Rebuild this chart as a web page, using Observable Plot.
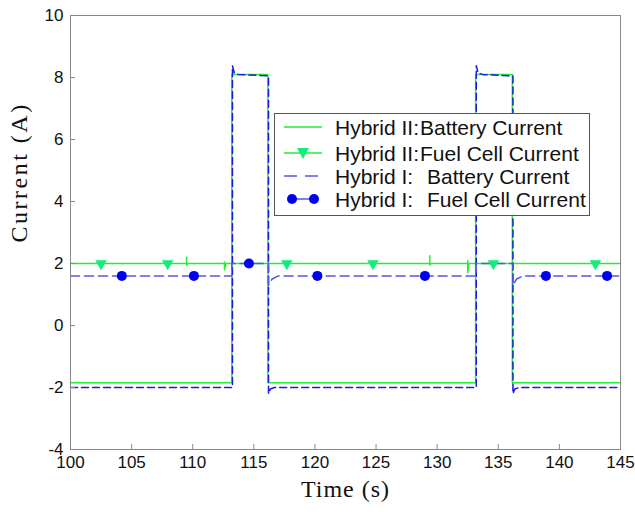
<!DOCTYPE html>
<html><head><meta charset="utf-8">
<script src="https://cdn.jsdelivr.net/npm/d3@7"></script>
<script src="https://cdn.jsdelivr.net/npm/@observablehq/plot@0.6"></script>
<style>
body{margin:0;background:#fff;}
#wrap{position:relative;width:635px;height:512px;}
#legend{position:absolute;left:274px;top:113px;}
</style></head><body><div id="wrap"></div>
<script>
// ---- data ----
const xTicks = [100,105,110,115,120,125,130,135,140,145];
const yTicks = [-4,-2,0,2,4,6,8,10];

// Hybrid II: Battery Current (green solid)
const battII_t = [100,113.2,113.2,116.15,116.15,133.15,133.15,136.15,136.15,145];
const battII_v = [-1.85,-1.85,8.1,8.1,-1.85,-1.85,8.1,8.1,-1.85,-1.85];

// Hybrid I: Battery Current (blue dashed)
const battI_t = [100,113.25,113.25,113.4,113.7,116.2,116.2,116.35,116.7,133.2,133.2,133.35,133.7,136.2,136.2,136.35,136.7,145];
const battI_v = [-2.0,-2.0,8.38,8.15,8.1,8.05,-2.2,-2.05,-2.0,-2.0,8.38,8.15,8.1,8.05,-2.2,-2.05,-2.0,-2.0];

// Hybrid II: Fuel Cell Current (green line with triangles)
const fcII_t = [100,109.5,109.5,109.5,109.6,112.6,112.6,112.6,112.7,129.4,129.4,129.4,129.5,132.5,132.5,132.5,132.6,145];
const fcII_v = [2.0,2.0,2.2,1.95,2.0,2.0,2.05,1.8,2.0,2.0,2.25,1.95,2.0,2.0,2.1,1.7,2.0,2.0];
const fcII_mark_t = [102.5,107.95,117.7,124.75,134.6,142.95];
const fcII_mark_v = [2.0,2.0,2.0,2.0,2.0,2.0];

// Hybrid I: Fuel Cell Current (blue with dots)
const fcI_t = [100,113.2,113.2,116.2,116.2,116.5,117.0,133.2,133.2,136.2,136.2,136.5,137.0,145];
const fcI_v = [1.6,1.6,2.0,2.0,1.3,1.5,1.6,1.6,2.0,2.0,1.3,1.5,1.6,1.6];
const fcI_mark_t = [104.2,110.1,114.6,120.2,129.0,138.9,143.9];
const fcI_mark_v = [1.6,1.6,2.0,1.6,1.6,1.6,1.6];

const legendLabels = [
  ["Hybrid II:", "Battery Current"],
  ["Hybrid II:", "Fuel Cell Current"],
  ["Hybrid I:", "Battery Current"],
  ["Hybrid I:", "Fuel Cell Current"]
];
// ---- end data ----

const zip = (t, v) => t.map((x, i) => ({t: x, v: v[i]}));
const GREEN = "#22ee33", TRI = "#11ee77", BLUE = "#1a1ae0", BLUE_L = "#5555e8", DOT = "#0000f0";
const sans = "Arial, 'Liberation Sans', sans-serif";
const serif = "'Times New Roman', 'Liberation Serif', serif";

const chart = Plot.plot({
  width: 635, height: 512,
  marginLeft: 70, marginRight: 15, marginTop: 15, marginBottom: 63,
  style: {fontFamily: sans, fontSize: "17px", background: "#fff", color: "#111"},
  x: {domain: [100, 145]},
  y: {domain: [-4, 10]},
  marks: [
    Plot.line(zip(battII_t, battII_v), {x: "t", y: "v", stroke: GREEN, strokeWidth: 1.5}),
    Plot.line(zip(fcII_t, fcII_v), {x: "t", y: "v", stroke: GREEN, strokeWidth: 1.5}),
    Plot.line(zip(battI_t, battI_v), {x: "t", y: "v", stroke: BLUE, strokeWidth: 1.5, strokeDasharray: "7,4"}),
    Plot.line(zip(fcI_t, fcI_v), {x: "t", y: "v", stroke: BLUE_L, strokeWidth: 1.5, strokeDasharray: "9,5"}),
    Plot.dot(zip(fcII_mark_t, fcII_mark_v), {x: "t", y: "v", symbol: "triangle2", rotate: 180, r: 5.5, fill: TRI}),
    Plot.dot(zip(fcI_mark_t, fcI_mark_v), {x: "t", y: "v", symbol: "circle", r: 5, fill: DOT}),
    Plot.frame({stroke: "#888"}),
    Plot.axisX({ticks: xTicks, tickSize: -5, tickPadding: 11, label: null, stroke: "#888", fill: "#111", fontSize: 17, tickFormat: d => String(d)}),
    Plot.axisY({ticks: yTicks, tickSize: -5, tickPadding: 12, label: null, stroke: "#888", fill: "#111", fontSize: 17, tickFormat: d => String(d)}),
    Plot.text(["Current (A)"], {text: d => d, frameAnchor: "left", dx: -51, dy: 10, rotate: -90, fontFamily: serif, fontSize: 24, fill: "#111", style: "letter-spacing:2.5px"}),
    Plot.text(["Time (s)"], {text: d => d, frameAnchor: "bottom", dy: 47, fontFamily: serif, fontSize: 24, fill: "#111"})
  ]
});
const wrap = document.getElementById("wrap");
wrap.appendChild(chart);
// letter spacing on axis titles
d3.select(chart).selectAll("text").filter(function(){ return this.textContent === "Current (A)"; }).style("letter-spacing", "2.5px");
d3.select(chart).selectAll("text").filter(function(){ return this.textContent === "Time (s)"; }).style("letter-spacing", "1px");

// legend inside plot area
const W = 316, H = 103;
const lg = d3.select(wrap).append("svg").attr("id", "legend").attr("width", W).attr("height", H)
  .style("font-family", sans).style("font-size", "21px");
lg.append("rect").attr("x", 0.5).attr("y", 0.5).attr("width", W - 1).attr("height", H - 1).attr("fill", "#fff").attr("stroke", "#555");
const rows = [14, 40, 63, 86];
legendLabels.forEach((lab, i) => {
  const y = rows[i];
  const g = lg.append("g");
  if (i === 0) g.append("line").attr("x1", 10).attr("x2", 48).attr("y1", y).attr("y2", y).attr("stroke", GREEN).attr("stroke-width", 1.5);
  if (i === 1) {
    g.append("line").attr("x1", 10).attr("x2", 48).attr("y1", y).attr("y2", y).attr("stroke", GREEN).attr("stroke-width", 1.5);
    g.append("path").attr("d", `M${29-6},${y-5}L${29+6},${y-5}L29,${y+6}Z`).attr("fill", TRI);
  }
  if (i === 2) g.append("line").attr("x1", 10).attr("x2", 48).attr("y1", y).attr("y2", y).attr("stroke", BLUE_L).attr("stroke-width", 1.5).attr("stroke-dasharray", "13,8");
  if (i === 3) {
    g.append("line").attr("x1", 14).attr("x2", 44).attr("y1", y).attr("y2", y).attr("stroke", BLUE_L).attr("stroke-width", 1.5);
    g.append("circle").attr("cx", 18).attr("cy", y).attr("r", 5).attr("fill", DOT);
    g.append("circle").attr("cx", 40).attr("cy", y).attr("r", 5).attr("fill", DOT);
  }
  g.append("text").attr("x", 61).attr("y", y + 7.5).attr("fill", "#111").text(lab[0]);
  g.append("text").attr("x", i < 2 ? 146 : 153).attr("y", y + 7.5).attr("fill", "#111").text(lab[1]);
});
</script>
</body></html>
